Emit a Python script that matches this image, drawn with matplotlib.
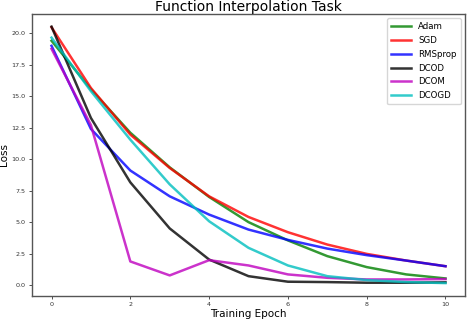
import numpy as np
import matplotlib
matplotlib.use("Agg")
import matplotlib.pyplot as plt

epochs = np.arange(11)

adam = [19.4, 15.55, 12.1, 9.35, 7.0, 5.0, 3.55, 2.3, 1.43, 0.85, 0.53]
sgd = [20.47, 15.65, 11.95, 9.3, 7.05, 5.41, 4.2, 3.22, 2.48, 1.95, 1.5]
rmsprop = [19.0, 12.4, 9.1, 7.05, 5.6, 4.41, 3.59, 2.9, 2.38, 1.95, 1.5]
dcod = [20.52, 13.27, 8.16, 4.5, 2.03, 0.71, 0.27, 0.24, 0.19, 0.19, 0.22]
dcom = [18.76, 12.7, 1.88, 0.77, 1.98, 1.56, 0.85, 0.58, 0.45, 0.45, 0.48]
dcogd = [19.65, 15.4, 11.55, 8.0, 5.07, 2.96, 1.56, 0.71, 0.4, 0.24, 0.16]

series = [("Adam", adam, "g"), ("SGD", sgd, "r"), ("RMSprop", rmsprop, "b"),
          ("DCOD", dcod, "k"), ("DCOM", dcom, "m"), ("DCOGD", dcogd, "c")]

fig = plt.figure(figsize=(4.68, 3.22), dpi=100)
ax = fig.add_axes([0.068, 0.081, 0.926, 0.876])

for name, vals, col in series:
    ax.plot(epochs, vals, color=col, alpha=0.8, linewidth=1.8, label=name)

ax.set_title("Function Interpolation Task", fontsize=10, pad=2)
ax.set_xlabel("Training Epoch", fontsize=7.5, labelpad=1)
ax.set_ylabel("Loss", fontsize=7.5, labelpad=2)
ax.tick_params(labelsize=4.6, length=2.5, width=0.6, pad=2, colors="#333333")
for sp in ax.spines.values():
    sp.set_color("#555555")
    sp.set_linewidth(1.0)
ax.legend(loc="upper right", fontsize=6.2, handlelength=2.3, labelspacing=0.55,
          borderpad=0.5, framealpha=0.8)

plt.savefig("out.png", dpi=100)
